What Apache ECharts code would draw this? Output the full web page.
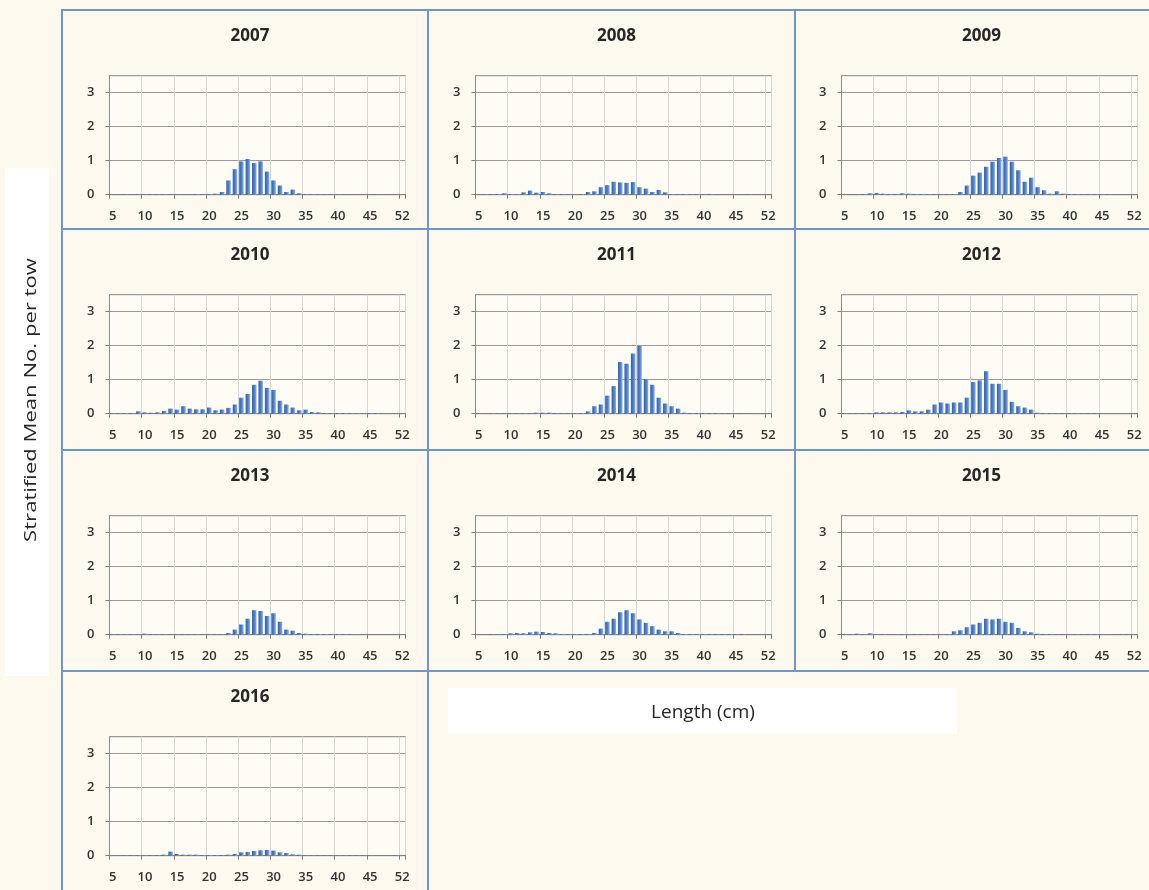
<!DOCTYPE html>
<html>
<head>
<meta charset="utf-8">
<script src="https://cdn.jsdelivr.net/npm/echarts@6/dist/echarts.min.js"></script>
<style>
  html, body { margin: 0; padding: 0; background: #fdf9ef; }
  #chart { width: 1149px; height: 890px; }
</style>
</head>
<body>
<div id="chart"></div>
<script>
// Length classes (cm); the last class is labelled 52
const lengths = ['5','6','7','8','9','10','11','12','13','14','15','16','17','18','19',
  '20','21','22','23','24','25','26','27','28','29','30','31','32','33','34',
  '35','36','37','38','39','40','41','42','43','44','45','46','47','48','49','52'];

const years = ['2007','2008','2009','2010','2011','2012','2013','2014','2015','2016'];

const yTicks = [0, 1, 2, 3];
const yMax = 3.5;

// Stratified mean number per tow, by length class
const y2007 = [0,0,0.01,0,0.01, 0.01,0.01,0.01,0.01,0.01, 0.01,0,0,0.02,0.01, 0.02,0.03,0.08,0.42,0.75,
  0.98,1.05,0.93,0.98,0.68, 0.42,0.27,0.08,0.15,0.04, 0.02,0.01,0.01,0.01,0.01, 0.01,0,0,0,0, 0,0.01,0,0,0, 0];
const y2008 = [0,0.01,0.01,0.02,0.04, 0.02,0.01,0.07,0.12,0.06, 0.08,0.04,0.02,0.02,0.01, 0.01,0.02,0.08,0.1,0.22,
  0.28,0.38,0.36,0.35,0.37, 0.22,0.18,0.08,0.14,0.07, 0.02,0.01,0.02,0.01,0.01, 0.01,0.02,0,0,0, 0,0,0.01,0,0, 0];
const y2009 = [0,0,0.01,0.02,0.04, 0.05,0.03,0.02,0.02,0.04, 0.03,0.02,0.02,0.02,0.01, 0.01,0.01,0.02,0.08,0.27,
  0.56,0.65,0.82,0.97,1.08, 1.12,0.97,0.72,0.38,0.5, 0.22,0.13,0.03,0.1,0.03, 0.02,0.02,0.01,0.01,0.01, 0.01,0.01,0,0,0, 0];
const y2010 = [0.01,0.01,0.02,0.02,0.07, 0.04,0.03,0.04,0.08,0.15, 0.12,0.22,0.15,0.13,0.13, 0.18,0.1,0.12,0.17,0.27,
  0.47,0.58,0.85,0.97,0.76, 0.7,0.38,0.27,0.18,0.1, 0.12,0.05,0.04,0.02,0.02, 0.02,0.02,0.02,0.01,0, 0.02,0.02,0,0,0, 0.01];
const y2011 = [0.01,0,0.01,0.01,0.01, 0.01,0.01,0.01,0.02,0.03, 0.03,0.03,0.02,0.01,0.01, 0.01,0.02,0.07,0.22,0.27,
  0.53,0.81,1.52,1.47,1.77, 2.0,1.02,0.85,0.47,0.3, 0.22,0.15,0.03,0.02,0.02, 0.02,0.02,0.02,0.01,0.01, 0,0.01,0,0,0, 0];
const y2012 = [0.01,0.01,0.01,0.02,0.02, 0.04,0.04,0.04,0.04,0.05, 0.1,0.07,0.07,0.12,0.27, 0.33,0.3,0.33,0.33,0.47,
  0.93,0.98,1.25,0.88,0.88, 0.7,0.35,0.22,0.18,0.12, 0.03,0.02,0.02,0.01,0.01, 0.01,0.01,0.01,0.01,0.01, 0.01,0,0,0,0, 0];
const y2013 = [0.01,0.01,0.01,0.01,0.01, 0.03,0.01,0.01,0.01,0.01, 0.01,0.01,0.01,0.01,0.01, 0.01,0.01,0.01,0.05,0.15,
  0.3,0.47,0.72,0.7,0.55, 0.63,0.38,0.15,0.12,0.05, 0.03,0.02,0.02,0.02,0.02, 0.02,0.01,0.01,0,0, 0,0,0,0,0, 0];
const y2014 = [0,0,0.01,0.01,0.02, 0.04,0.05,0.04,0.07,0.09, 0.08,0.05,0.04,0.02,0.02, 0.02,0.02,0.02,0.05,0.18,
  0.38,0.47,0.66,0.72,0.63, 0.45,0.35,0.25,0.15,0.1, 0.1,0.05,0.02,0.02,0.02, 0.02,0.02,0.02,0.02,0.02, 0.02,0.02,0,0,0, 0];
const y2015 = [0.01,0.01,0.03,0.01,0.04, 0.01,0.01,0.01,0.01,0.01, 0.01,0.01,0.01,0.01,0.01, 0.01,0.02,0.1,0.13,0.22,
  0.3,0.35,0.47,0.45,0.47, 0.38,0.35,0.2,0.1,0.07, 0.03,0.02,0.02,0.01,0.01, 0.01,0.01,0.01,0.01,0.01, 0.01,0,0,0.01,0.01, 0];
const y2016 = [0,0,0.01,0.01,0.01, 0.01,0.01,0.02,0.03,0.12, 0.05,0.03,0.03,0.03,0.02, 0.02,0.02,0.02,0.03,0.05,
  0.1,0.11,0.14,0.16,0.17, 0.15,0.1,0.08,0.04,0.03, 0.01,0.01,0.01,0.01,0.01, 0.01,0.01,0.01,0.01,0.01, 0.01,0,0,0,0.01, 0];

const seriesData = [y2007, y2008, y2009, y2010, y2011, y2012, y2013, y2014, y2015, y2016];

// Panel frame geometry
const panelLeft = [62, 428, 795];
const panelRight = [428, 795, 1158];
const panelTop = [10, 229, 450, 671];
const plotLeft = [109.5, 475.5, 841.5];
const plotWidth = 296;
const plotOffsetTop = 65.7;
const plotHeight = 119;

const FONT = '"Open Sans", "Noto Sans", sans-serif';
const frameColor = '#6f95c9';
const barColor = new echarts.graphic.LinearGradient(0, 0, 1, 0, [
  { offset: 0, color: '#345fa3' },
  { offset: 0.55, color: '#4f82c8' },
  { offset: 1, color: '#93b4e2' }
]);

const grids = [], xAxes = [], yAxes = [], series = [], titles = [];
const frames = [];

years.forEach((yr, i) => {
  const col = i % 3, row = Math.floor(i / 3);
  const top = panelTop[row];
  const bottom = row < 3 ? panelTop[row + 1] : 900;

  frames.push({
    type: 'rect',
    shape: { x: panelLeft[col], y: top, width: panelRight[col] - panelLeft[col], height: bottom - top },
    style: { fill: null, stroke: frameColor, lineWidth: 2 },
    silent: true
  });

  titles.push({
    text: yr,
    left: (panelLeft[col] + panelRight[col]) / 2,
    top: top + 13,
    textAlign: 'center',
    textStyle: { fontFamily: FONT, fontSize: 17, fontWeight: 'bold', color: '#262626' }
  });

  grids.push({
    left: plotLeft[col],
    top: top + plotOffsetTop,
    width: plotWidth,
    height: plotHeight,
    show: true,
    backgroundColor: '#fffcf5',
    borderColor: '#8a8a8a',
    borderWidth: 1
  });

  xAxes.push({
    type: 'category',
    gridIndex: i,
    data: lengths,
    boundaryGap: true,
    axisLine: { show: true, lineStyle: { color: '#7f7f7f', width: 1 } },
    axisTick: { show: true, interval: 4, length: 4, lineStyle: { color: '#7f7f7f' } },
    axisLabel: { interval: 4, margin: 15, fontFamily: FONT, fontSize: 13, fontWeight: 600, color: '#333333' },
    splitLine: { show: true, interval: 4, lineStyle: { color: '#d6d6d6', width: 1 } }
  });

  yAxes.push({
    type: 'value',
    gridIndex: i,
    min: yTicks[0],
    max: yMax,
    interval: 1,
    axisLine: { show: true, lineStyle: { color: '#8a8a8a' } },
    axisTick: { show: true, length: 4, lineStyle: { color: '#7f7f7f' } },
    axisLabel: {
      showMaxLabel: false, margin: 15,
      fontFamily: FONT, fontSize: 13, fontWeight: 600, color: '#333333',
      formatter: v => (yTicks.indexOf(v) >= 0 ? String(v) : '')
    },
    splitLine: { show: true, lineStyle: { color: '#9a9a9a', width: 1 } }
  });

  series.push({
    type: 'bar',
    name: yr,
    xAxisIndex: i,
    yAxisIndex: i,
    data: seriesData[i],
    barCategoryGap: '30%',
    itemStyle: { color: barColor },
    silent: true
  });
});

const chart = echarts.init(document.getElementById('chart'), null, { renderer: 'canvas' });
chart.setOption({
  backgroundColor: '#fdf9ef',
  animation: false,
  title: titles,
  grid: grids,
  xAxis: xAxes,
  yAxis: yAxes,
  series: series,
  graphic: {
    elements: [
      // y-axis caption box
      { type: 'rect', shape: { x: 5, y: 168, width: 44, height: 508 }, style: { fill: '#ffffff' }, silent: true },
      {
        type: 'text', x: 31, y: 400, rotation: Math.PI / 2, scaleX: 1.3,
        style: { text: 'Stratified Mean No. per tow', fontFamily: FONT, fontSize: 17, fill: '#262626',
          textAlign: 'center', textVerticalAlign: 'middle' },
        silent: true
      },
      // x-axis caption box
      { type: 'rect', shape: { x: 448, y: 688, width: 509, height: 46 }, style: { fill: '#ffffff' }, silent: true },
      {
        type: 'text', x: 703, y: 713,
        style: { text: 'Length (cm)', fontFamily: FONT, fontSize: 19, fill: '#262626',
          textAlign: 'center', textVerticalAlign: 'middle' },
        silent: true
      }
    ].concat(frames)
  }
});
</script>
</body>
</html>
